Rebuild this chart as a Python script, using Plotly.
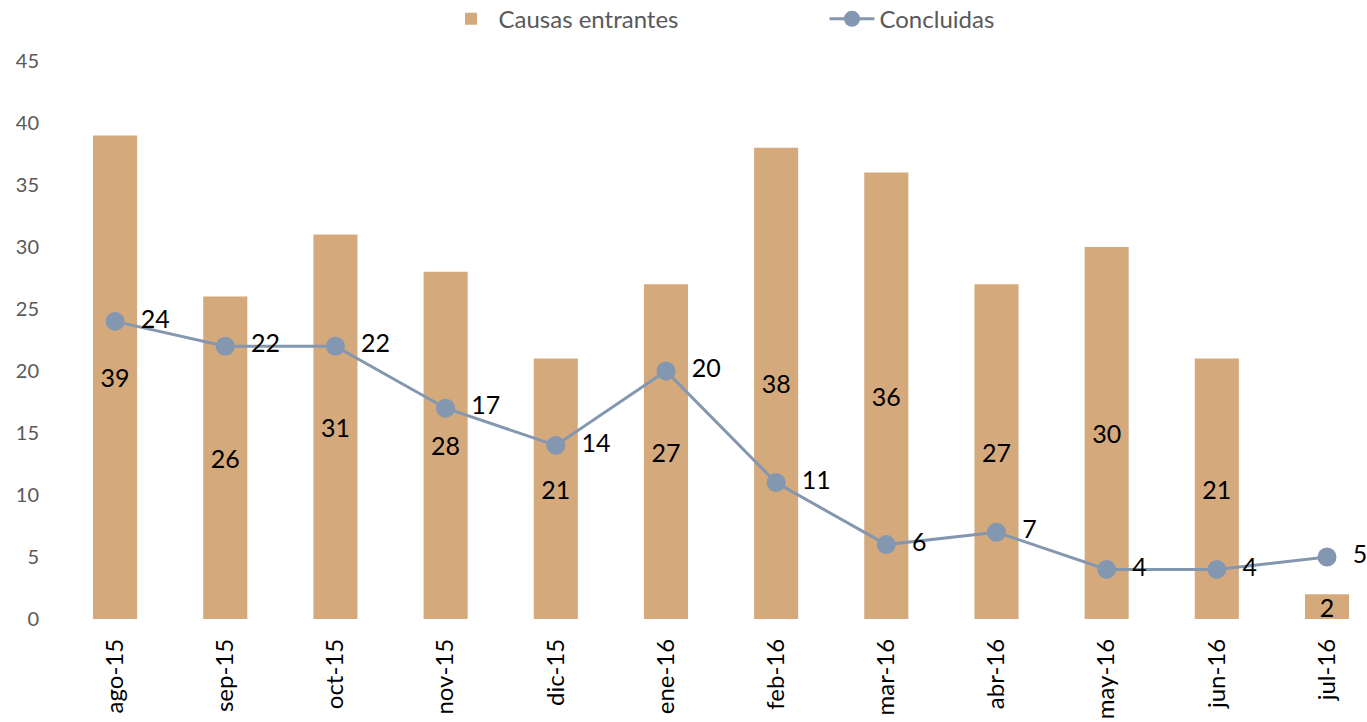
import plotly.graph_objects as go

months = ["ago-15", "sep-15", "oct-15", "nov-15", "dic-15", "ene-16",
          "feb-16", "mar-16", "abr-16", "may-16", "jun-16", "jul-16"]
entrantes = [39, 26, 31, 28, 21, 27, 38, 36, 27, 30, 21, 2]
concluidas = [24, 22, 22, 17, 14, 20, 11, 6, 7, 4, 4, 5]

FONT = "Lato"
BAR_COLOR = "#D4A97B"
LINE_COLOR = "#8497B0"

fig = go.Figure()
fig.add_trace(go.Bar(
    x=months, y=entrantes, name="Causas entrantes",
    marker=dict(color=BAR_COLOR, line=dict(width=0)),
    width=0.4,
    text=[str(v) for v in entrantes],
    textposition="inside", insidetextanchor="middle", textangle=0,
    textfont=dict(family=FONT, size=25, color="#000000"),
))
fig.add_trace(go.Scatter(
    x=months, y=concluidas, name="Concluidas",
    mode="lines+markers+text",
    line=dict(color=LINE_COLOR, width=3),
    marker=dict(color=LINE_COLOR, size=19),
    texttemplate="  %{y}",
    textposition="middle right",
    cliponaxis=False,
    textfont=dict(family=FONT, size=25, color="#000000"),
))

fig.update_layout(
    width=1367, height=722,
    margin=dict(l=60, r=0, t=61, b=103, autoexpand=False),
    paper_bgcolor="white", plot_bgcolor="white",
    font=dict(family=FONT, color="#595959"),
    uniformtext=dict(minsize=25, mode="show"),
    showlegend=True,
    legend=dict(orientation="h", x=0.2934, y=1.075, xanchor="left", yanchor="middle",
                font=dict(family=FONT, size=24, color="#595959"),
                entrywidth=321, entrywidthmode="pixels", itemwidth=45),
    xaxis=dict(range=[-0.5, 11.363], showgrid=False, showline=False, zeroline=False,
               tickangle=-90, ticks="", ticklabelstandoff=14, automargin=False,
               tickfont=dict(family=FONT, size=24, color="#000000")),
    yaxis=dict(range=[0, 45], dtick=5, showgrid=False, showline=False, zeroline=False,
               ticks="", ticklabelstandoff=20, automargin=False,
               tickfont=dict(family=FONT, size=20, color="#595959")),
)

fig.write_html("out.html", config={"displayModeBar": False},
               post_script="document.body.style.margin='0px';document.body.style.overflow='hidden';")
